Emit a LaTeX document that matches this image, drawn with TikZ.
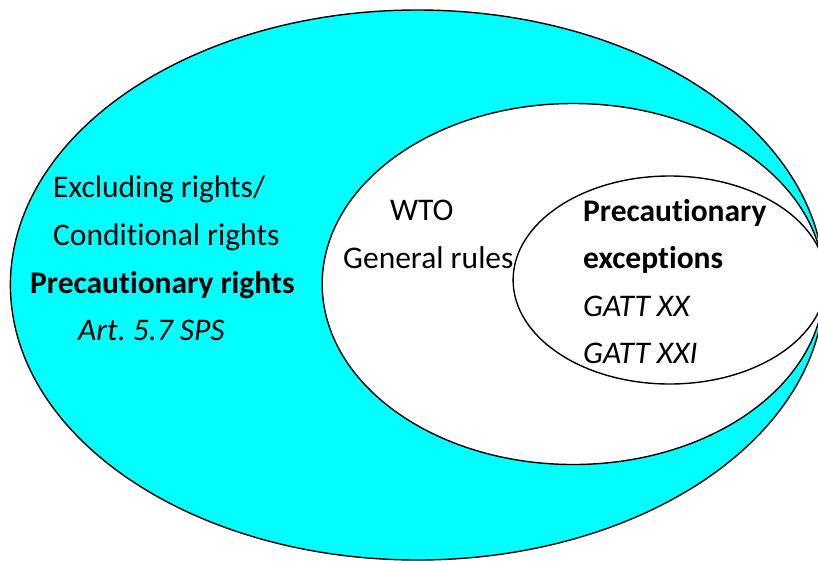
\documentclass[tikz,border=0pt]{standalone}
\usepackage{fontspec}
\setmainfont[Ligatures={NoCommon}]{Carlito}
\usetikzlibrary{shapes.geometric}
\definecolor{aqua}{HTML}{00FFFF}
\frenchspacing
\begin{document}
\begin{tikzpicture}[x=1pt,y=-1pt,
  ring/.style={ellipse,draw=black,line width=1.4pt,inner sep=0pt},
  lbl/.style={anchor=base west,inner sep=0pt,font=\fontsize{31.5}{36}\selectfont}]
\useasboundingbox (0,0) rectangle (818,563);
\clip (0,0) rectangle (818,563);
\node[ring,fill=aqua,minimum width=814pt,minimum height=550pt] (outer) at (417.4,285) {};
\node[ring,fill=white,minimum width=502pt,minimum height=361pt] (middle) at (573.2,284) {};
\node[ring,fill=white,minimum width=313pt,minimum height=208pt] (inner) at (669.6,280) {};
\node[lbl] (t1) at (53,197) {Excluding rights/};
\node[lbl] (t2) at (53,245) {Conditional rights};
\node[lbl,font=\fontsize{31.5}{36}\selectfont\bfseries] (t3) at (30,293) {Precautionary rights};
\node[lbl,font=\fontsize{31.5}{36}\selectfont\itshape] (t4) at (78,340) {Art. 5.7 SPS};
\node[lbl] (w1) at (390,220) {WTO};
\node[lbl] (w2) at (343,268) {General rules};
\node[lbl,font=\fontsize{31.5}{36}\selectfont\bfseries] (p1) at (583,221) {Precautionary};
\node[lbl,font=\fontsize{31.5}{36}\selectfont\bfseries] (p2) at (583,268) {exceptions};
\node[lbl,font=\fontsize{31.5}{36}\selectfont\itshape] (p3) at (583,316) {GATT XX};
\node[lbl,font=\fontsize{31.5}{36}\selectfont\itshape] (p4) at (583,363) {GATT XXI};
\end{tikzpicture}
\end{document}
